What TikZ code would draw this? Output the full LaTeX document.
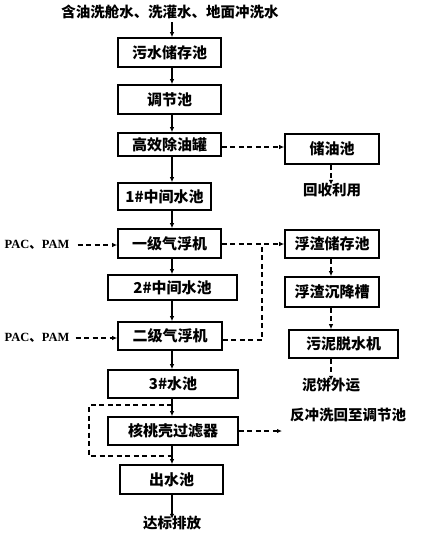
\documentclass[tikz,border=0pt]{standalone}
\usepackage{fontspec}
\setmainfont{Liberation Serif}
\newfontfamily\cjk{Noto Sans CJK SC}
\usetikzlibrary{arrows.meta}
\begin{document}
\begin{tikzpicture}[x=1pt,y=-1pt,
  box/.style={draw,line width=1.7pt,rectangle,inner sep=0pt,font=\cjk\bfseries\fontsize{15}{17}\selectfont},
  lbl/.style={inner sep=0pt,font=\cjk\bfseries\fontsize{14.5}{16}\selectfont},
  pac/.style={inner sep=0pt,font=\bfseries\fontsize{12.5}{14}\selectfont},
  arr/.style={line width=1.4pt,-{Latex[length=5pt,width=4.5pt]}},
  darr/.style={line width=1.4pt,dash pattern=on 5pt off 3.5pt,-{Latex[length=5pt,width=4.5pt]}},
  dline/.style={line width=1.4pt,dash pattern=on 5pt off 3.5pt}]
\useasboundingbox (0,0) rectangle (424,536);
\node[lbl] (top) at (170,12) {含油洗舱水、洗灌水、地面冲洗水};
\node[box,minimum width=103pt,minimum height=29pt] (s1) at (169.5,52.5) {污水储存池};
\node[box,minimum width=103pt,minimum height=29pt] (s2) at (169.5,99.5) {调节池};
\node[box,minimum width=103pt,minimum height=23pt] (s3) at (169.5,144.5) {高效除油罐};
\node[box,minimum width=94pt,minimum height=30pt] (oil) at (332,149) {储油池};
\node[lbl] (reuse) at (332,190) {回收利用};
\node[box,minimum width=93pt,minimum height=27pt] (m1) at (164.5,196.5) {1\#中间水池};
\node[box,minimum width=103pt,minimum height=29pt] (f1) at (169.5,243.5) {一级气浮机};
\node[box,minimum width=94pt,minimum height=28pt] (z1) at (332,244) {浮渣储存池};
\node[pac] (pac1) at (37,245) {PAC{\cjk 、}PAM};
\node[box,minimum width=129pt,minimum height=25pt] (m2) at (172.5,287.5) {2\#中间水池};
\node[box,minimum width=94pt,minimum height=30pt] (z2) at (332,292) {浮渣沉降槽};
\node[box,minimum width=104pt,minimum height=28pt] (f2) at (170,336) {二级气浮机};
\node[pac] (pac2) at (37,338) {PAC{\cjk 、}PAM};
\node[box,minimum width=109pt,minimum height=28pt] (z3) at (343.5,344) {污泥脱水机};
\node[lbl] (cake) at (331,385) {泥饼外运};
\node[box,minimum width=130pt,minimum height=28pt] (p3) at (173,384) {3\#水池};
\node[box,minimum width=130pt,minimum height=28pt] (flt) at (173,431) {核桃壳过滤器};
\node[lbl,anchor=west] (back) at (290,415) {反冲洗回至调节池};
\node[box,minimum width=103pt,minimum height=29pt] (out) at (171.5,479.5) {出水池};
\node[lbl] (dis) at (172,523) {达标排放};
\coordinate (cx) at (172,0);
\coordinate (rx) at (331,0);
% main flow
\draw[arr] (cx |- top.south) ++(0,3) -- (cx |- s1.north);
\draw[arr] (cx |- s1.south) -- (cx |- s2.north);
\draw[arr] (cx |- s2.south) -- (cx |- s3.north);
\draw[arr] (cx |- s3.south) -- (cx |- m1.north);
\draw[arr] (cx |- m1.south) -- (cx |- f1.north);
\draw[arr] (cx |- f1.south) -- (cx |- m2.north);
\draw[arr] (cx |- m2.south) -- (cx |- f2.north);
\draw[arr] (cx |- f2.south) -- (cx |- p3.north);
\draw[arr] (cx |- p3.south) -- (cx |- flt.north);
\draw[arr] (cx |- flt.south) -- (cx |- out.north);
\draw[arr] (cx |- out.south) -- ([yshift=-3pt]cx |- dis.north);
% oil
\coordinate (y147) at (0,147);
\draw[darr] (s3.east |- y147) -- (oil.west |- y147);
\draw[darr] (rx |- oil.south) -- ([yshift=-2pt]rx |- reuse.north);
% chemicals
\draw[darr] ([xshift=8pt]pac1.east) -- (f1.west |- pac1.east);
\draw[darr] ([xshift=6pt]pac2.east) -- (f2.west |- pac2.east);
% scum
\coordinate (j) at (262,244);
\draw[darr] (f1.east |- j) -- (z1.west |- j);
\draw[dline] (f2.east |- 0,340) -| (j);
\draw[darr] (rx |- z1.south) -- (rx |- z2.north);
\draw[darr] (rx |- z2.south) -- (rx |- z3.north);
\draw[darr] (rx |- z3.south) -- ([yshift=-3pt]rx |- cake.north);
% bypass and backwash
\coordinate (b1) at (172,405);
\coordinate (b2) at (172,456);
\draw[dline] (b1) -| (89,456) -- (b2);
\draw[darr] (flt.east) -- ([xshift=-8pt]back.west |- flt.east);
\end{tikzpicture}
\end{document}
